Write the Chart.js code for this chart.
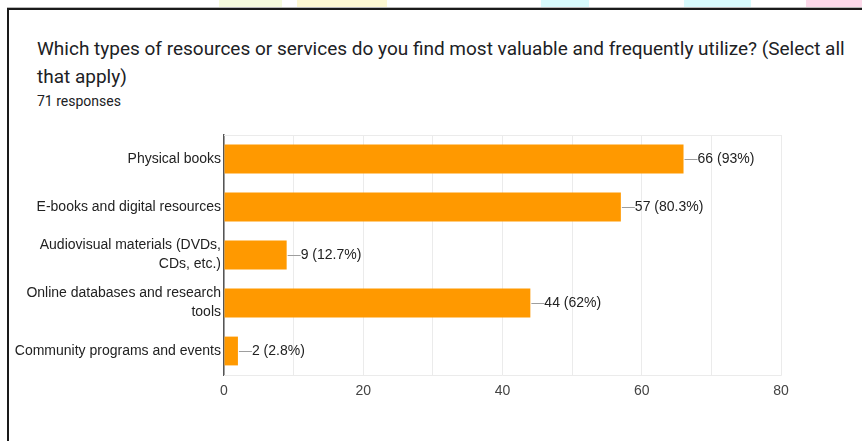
<!DOCTYPE html>
<html>
<head>
<meta charset="utf-8">
<script src="https://cdn.jsdelivr.net/npm/chart.js@4"></script>
<style>
  html, body { margin:0; padding:0; background:#fff; }
  body { width:862px; height:441px; position:relative; overflow:hidden; }
  #wrap { position:absolute; left:0; top:0; width:862px; height:441px; }
  .frame { position:absolute; left:7px; top:8px; right:-10px; bottom:-10px;
           border-top:2px solid #1a1a1a; border-left:2px solid #1a1a1a; box-shadow:0 -1px 0 #b8b8b8; }
  .blob { position:absolute; top:0; height:8px; }
  .title { position:absolute; left:37px; top:35px; font:19px Roboto, Arial, sans-serif; line-height:28px; color:#202124; }
  .resp { position:absolute; left:37px; top:93px; font:14px Roboto, Arial, sans-serif; color:#202124; }
  canvas { position:absolute; left:0; top:0; }
</style>
</head>
<body>
<div class="blob" style="left:219px;width:63px;background:#f6fbdd"></div>
<div class="blob" style="left:297px;width:90px;background:#fdf8d2"></div>
<div class="blob" style="left:541px;width:48px;background:#d8fbfd"></div>
<div class="blob" style="left:684px;width:67px;background:#d8fbfd"></div>
<div class="blob" style="left:806px;width:56px;background:#fcd9ea"></div>
<div class="frame"></div>
<div class="title">Which types of resources or services do you find most valuable and frequently utilize? (Select all<br>that apply)</div>
<div class="resp">71 responses</div>
<div id="wrap"><canvas id="chart" width="862" height="441"></canvas></div>
<script>
// survey answers
const categories = [
  'Physical books',
  'E-books and digital resources',
  ['Audiovisual materials (DVDs,', 'CDs, etc.)'],
  ['Online databases and research', 'tools'],
  'Community programs and events'
];
const counts = [66, 57, 9, 44, 2];
const totalResponses = 71;
const xTicks = [0, 20, 40, 60, 80];

function pct(v) {
  return (v / totalResponses * 100).toFixed(1).replace(/\.0$/, '');
}

// light frame round the plot
const frame = {
  id: 'frame',
  beforeDatasetsDraw(chart) {
    const a = chart.chartArea, ctx = chart.ctx;
    ctx.save();
    ctx.strokeStyle = '#ebebeb';
    ctx.lineWidth = 1;
    ctx.beginPath();
    ctx.moveTo(a.left, a.top + 0.5); ctx.lineTo(a.right + 0.5, a.top + 0.5);
    ctx.lineTo(a.right + 0.5, a.bottom + 0.5); ctx.lineTo(a.left, a.bottom + 0.5);
    ctx.stroke();
    ctx.restore();
  }
};

// "66 (93%)" labels with a small leader line
const valueLabels = {
  id: 'valueLabels',
  afterDatasetsDraw(chart) {
    const ctx = chart.ctx;
    const meta = chart.getDatasetMeta(0);
    ctx.save();
    ctx.font = '14px "Liberation Sans", Arial, sans-serif';
    ctx.textBaseline = 'middle';
    meta.data.forEach((bar, i) => {
      const y = Math.round(bar.y) + 0.5;
      ctx.strokeStyle = '#9e9e9e';
      ctx.lineWidth = 1;
      ctx.beginPath();
      ctx.moveTo(bar.x + 1, y);
      ctx.lineTo(bar.x + 14, y);
      ctx.stroke();
      ctx.fillStyle = '#222';
      ctx.fillText(counts[i] + ' (' + pct(counts[i]) + '%)', bar.x + 14, y);
    });
    ctx.restore();
  }
};

new Chart(document.getElementById('chart'), {
  type: 'bar',
  data: {
    labels: categories,
    datasets: [{
      data: counts,
      backgroundColor: '#ff9900',
      borderWidth: 0,
      barPercentage: 0.6,
      categoryPercentage: 1
    }]
  },
  plugins: [frame, valueLabels],
  options: {
    indexAxis: 'y',
    responsive: false,
    animation: false,
    layout: { padding: { left: 0, top: 135, right: 81, bottom: 42 } },
    plugins: { legend: { display: false }, tooltip: { enabled: false } },
    scales: {
      x: {
        min: 0, max: 80,
        afterBuildTicks: s => { s.ticks = [0,10,20,30,40,50,60,70,80].map(v => ({ value: v })); },
        afterFit: s => { s.height = 24; },
        grid: { color: '#ebebeb', drawTicks: false },
        border: { display: false },
        ticks: {
          padding: 8,
          color: '#444',
          font: { family: '"Liberation Sans", Arial, sans-serif', size: 14 },
          callback: v => xTicks.includes(v) ? String(v) : ''
        }
      },
      y: {
        afterFit: s => { s.width = 224; },
        grid: { display: false, drawTicks: false },
        border: { color: '#555', width: 1.5 },
        ticks: {
          padding: 3,
          color: '#222',
          font: { family: '"Liberation Sans", Arial, sans-serif', size: 14, lineHeight: 1.35 }
        }
      }
    }
  }
});
</script>
</body>
</html>
